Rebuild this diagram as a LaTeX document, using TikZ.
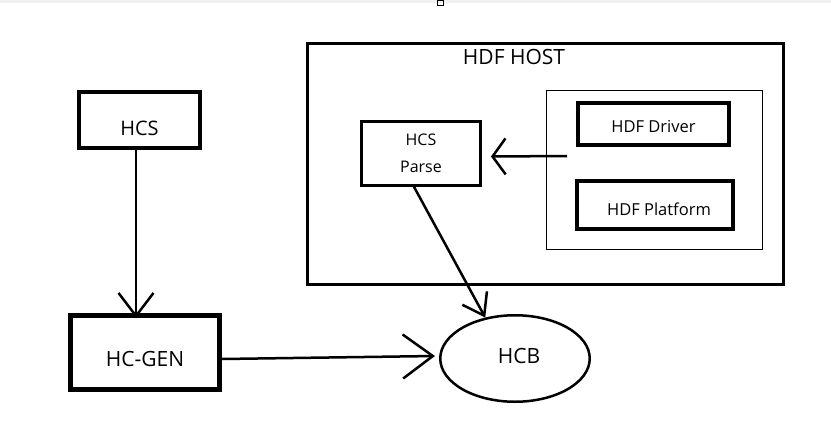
\documentclass[tikz,border=0pt]{standalone}
\usepackage{fontspec}
\setmainfont{Open Sans}
\usepackage{xcolor}
\usepackage{tikz}
\usetikzlibrary{positioning,arrows.meta,shapes.geometric}

\tikzset{
  box/.style={draw, line width=#1, inner sep=0pt, align=center},
  flow/.style n args={2}{-{Straight Barb[length=#1,width=#2,line width=2.5pt]}, line width=2.5pt},
}

\begin{document}
\begin{tikzpicture}[x=1pt,y=-1pt]
\useasboundingbox (0,0) rectangle (831,440);
% screenshot strip at the top
\fill[gray!12] (0,0) rectangle (831,3);
\draw[line width=0.8pt] (437.5,0) rectangle (443.5,5);

% left column
\node[box=4pt, minimum width=121pt, minimum height=56pt, text height=30pt, text depth=0pt, font=\fontsize{20}{24}\selectfont] (hcs) at (139.5,120) {HCS};
\node[box=5pt, minimum width=149pt, minimum height=74pt, text height=28pt, text depth=0pt, font=\fontsize{21}{25}\selectfont] (hcgen) at (145,352.5) {HC-GEN};

% host
\node[box=3pt, minimum width=476pt, minimum height=241pt] (host) at (545.5,164) {};
\node[font=\fontsize{21}{25}\selectfont] (title) at (514,57) {HDF HOST};
\node[box=3pt, minimum width=119pt, minimum height=64pt, font=\fontsize{16}{27}\selectfont] (parse) at (421,153) {HCS\\Parse};
\node[box=1pt, minimum width=216pt, minimum height=159pt] (pkg) at (654.5,170) {};
\node[box=4pt, minimum width=151pt, minimum height=42pt, text height=16pt, text depth=0pt, font=\fontsize{16.5}{20}\selectfont] (driver) at (653.5,124) {HDF Driver};
\node[box=4pt, minimum width=156pt, minimum height=48pt, text height=20pt, text depth=0pt, font=\fontsize{16.5}{20}\selectfont] (platform) at (655,205) {\hspace{8pt}HDF Platform};

% result
\node[draw, ellipse, line width=2.5pt, minimum width=149.5pt, minimum height=86.5pt, inner sep=0pt, text height=10pt, text depth=0pt, font=\fontsize{21}{25}\selectfont] (hcb) at (515,358.5) {\hspace{8pt}HCB};

% connectors
\draw[flow={23pt}{35pt}] ([xshift=-3.5pt]hcs.south) -- ([xshift=-9pt,yshift=-5pt]hcgen.north);
\draw[flow={30pt}{44pt}] ([yshift=-6.5pt]hcgen.east) -- ([xshift=-4pt,yshift=2.5pt]hcb.west);
\draw[flow={20pt}{28pt}] ([xshift=-8pt,yshift=1.5pt]parse.south) -- (hcb.126);
\draw[flow={13pt}{36pt}] ([xshift=21pt,yshift=14pt]pkg.west) -- ([xshift=9pt,yshift=-3.5pt]parse.east);
\end{tikzpicture}
\end{document}
